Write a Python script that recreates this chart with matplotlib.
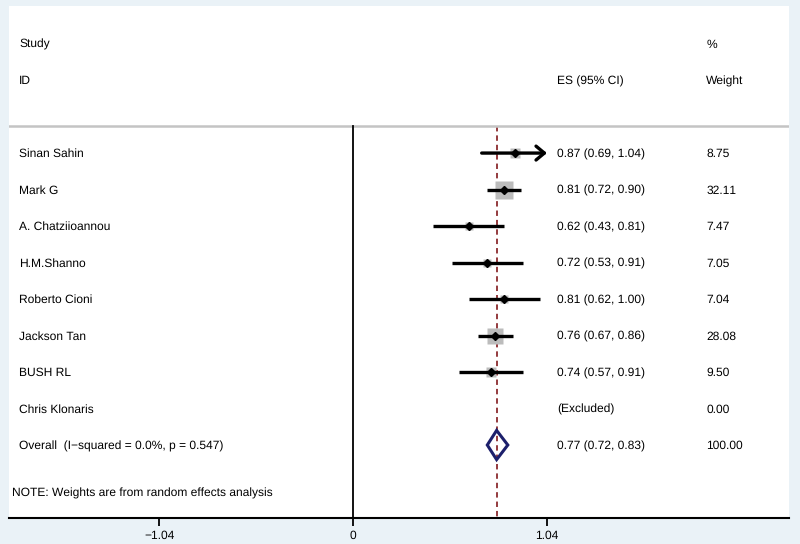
import matplotlib.pyplot as plt
from matplotlib.patches import Polygon
import numpy as np

plt.rcParams['font.family'] = ['Liberation Sans', 'DejaVu Sans']
plt.rcParams['text.hinting'] = 'no_hinting'
plt.rcParams['text.hinting_factor'] = 1

studies = ['Sinan Sahin', 'Mark G', 'A. Chatziioannou', 'H.M.Shanno', 'Roberto Cioni',
           'Jackson Tan', 'BUSH RL', 'Chris Klonaris']
es = [0.87, 0.81, 0.62, 0.72, 0.81, 0.76, 0.74, None]
lo = [0.69, 0.72, 0.43, 0.53, 0.62, 0.67, 0.57, None]
hi = [1.04, 0.90, 0.81, 0.91, 1.00, 0.86, 0.91, None]
weights = [8.75, 32.11, 7.47, 7.05, 7.04, 28.08, 9.50, 0.00]
es_text = ['0.87 (0.69, 1.04)', '0.81 (0.72, 0.90)', '0.62 (0.43, 0.81)', '0.72 (0.53, 0.91)',
           '0.81 (0.62, 1.00)', '0.76 (0.67, 0.86)', '0.74 (0.57, 0.91)', '(Excluded)']
overall_es, overall_lo, overall_hi = 0.77, 0.72, 0.83
overall_label = 'Overall  (I\u2212squared = 0.0%, p = 0.547)'
overall_text = '0.77 (0.72, 0.83)'
xticks = [-1.04, 0, 1.04]
xticklabels = ['\u22121.04', '0', '1.04']
clip_hi = 1.04

bg = '#eaf2f7'
navy = '#1c1f6b'
maroon = '#8b2b2e'

fig = plt.figure(figsize=(8, 5.44), dpi=100, facecolor=bg)
ax = fig.add_axes([9 / 800, 1 - 518 / 544, 780 / 800, 512 / 544])
ax.set_facecolor('white')
ax.set_xlim(-1.845, 2.338)
ax.set_ylim(10.0, -4.03)

fs = 8.5
x_name, x_es, x_w = -1.79, 1.095, 1.895

# headers
ax.text(x_name, -2.97, 'Study', fontsize=fs, va='center')
ax.text(x_name, -1.97, 'ID', fontsize=fs, va='center')
ax.text(x_es, -1.97, 'ES (95% CI)', fontsize=fs, va='center')
ax.text(x_w, -2.97, '%', fontsize=fs, va='center')
ax.text(x_w, -1.97, 'Weight', fontsize=fs, va='center')
ax.axhline(-0.74, color='#c4c4c4', lw=1.8)

# reference lines
ax.plot([0, 0], [-0.74, 10], color='black', lw=1.3, zorder=2)
ax.plot([overall_es, overall_es], [-0.74, 10], color=maroon, lw=1.3, ls=(0, (3, 2.2)), zorder=1)

for i, name in enumerate(studies):
    ty = i + 0.03
    ax.text(x_name, ty, name, fontsize=fs, va='center')
    ax.text(x_es, ty, es_text[i], fontsize=fs, va='center')
    ax.text(x_w, ty, '%.2f' % weights[i], fontsize=fs, va='center')
    if es[i] is None:
        continue
    side = 2.2 * np.sqrt(weights[i])
    ax.plot(es[i], i, marker='s', ms=side, color='#bcbcbc', mec='none', zorder=3)
    if hi[i] >= clip_hi:
        ax.annotate('', xy=(clip_hi, i), xytext=(lo[i], i),
                    arrowprops=dict(arrowstyle='->,head_length=0.6,head_width=0.5',
                                    lw=2.4, color='black', shrinkA=0, shrinkB=0), zorder=4)
    else:
        ax.plot([lo[i], hi[i]], [i, i], color='black', lw=2.4, solid_capstyle='butt', zorder=4)
    ax.plot(es[i], i, marker='D', ms=4, color='black', zorder=5)

# overall
oy = 8
ax.text(x_name, oy + 0.03, overall_label, fontsize=fs, va='center')
ax.text(x_es, oy + 0.03, overall_text, fontsize=fs, va='center')
ax.text(x_w, oy + 0.03, '100.00', fontsize=fs, va='center')
diamond = Polygon([[overall_lo, oy], [overall_es, oy - 0.4], [overall_hi, oy], [overall_es, oy + 0.4]],
                  closed=True, fill=False, edgecolor=navy, lw=2.2, zorder=5)
ax.add_patch(diamond)

ax.text(-1.828, 9.33, 'NOTE: Weights are from random effects analysis', fontsize=fs, va='center')

for s in ['top', 'left', 'right']:
    ax.spines[s].set_visible(False)
ax.spines['bottom'].set_linewidth(1.5)
ax.set_yticks([])
ax.set_xticks(xticks)
ax.set_xticklabels(xticklabels, fontsize=8.5)
ax.tick_params(axis='x', length=6, width=1.3, pad=3)

fig.savefig('out.png', dpi=100, facecolor=bg)
